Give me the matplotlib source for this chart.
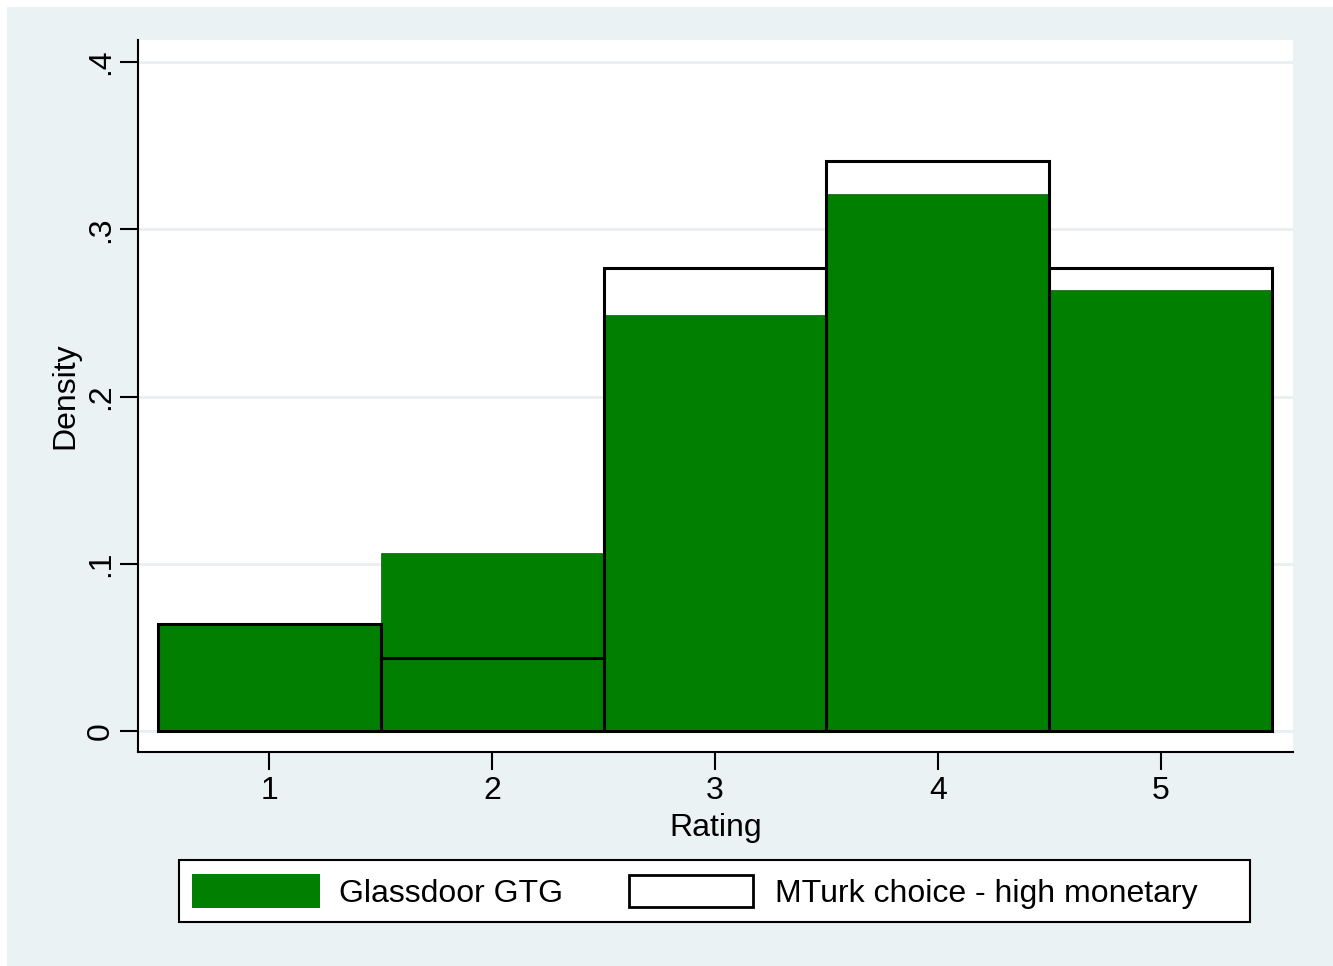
import numpy as np
import matplotlib.pyplot as plt
from matplotlib.patches import Rectangle

plt.rcParams['font.family'] = ['Liberation Sans', 'DejaVu Sans']

# Histogram densities
ratings = [1, 2, 3, 4, 5]
glassdoor = [0.064, 0.1065, 0.2487, 0.321, 0.2637]
mturk = [0.064, 0.0436, 0.2768, 0.3408, 0.2768]
ytick_vals = [0, 0.1, 0.2, 0.3, 0.4]
ytick_labels = ['0', '.1', '.2', '.3', '.4']

bg = '#eaf2f3'
green = '#007f00'

W, H = 1333, 966
fig = plt.figure(figsize=(W / 100, H / 100), dpi=100, facecolor='white')
# light outer region (white strip only at top/left)
fig.patches.append(Rectangle((7 / W, 0), 1, 1 - 7 / H, transform=fig.transFigure,
                             facecolor=bg, edgecolor='none', zorder=-5))

ax = fig.add_axes([138 / W, (H - 752) / H, (1293 - 138) / W, (752 - 40) / H])
ax.set_facecolor('white')

ax.bar(ratings, glassdoor, width=1.0, color=green, edgecolor='#1a6b1a',
       linewidth=0.6, zorder=2)
ax.bar(ratings, mturk, width=1.0, fill=False, edgecolor='black',
       linewidth=2.2, zorder=3)

ax.set_xlim(0.41, 5.594)
ax.set_ylim(-0.01256, 0.4132)

ax.set_yticks(ytick_vals)
ax.set_yticklabels(ytick_labels, rotation=90, va='center')
ax.set_xticks(ratings)
ax.yaxis.grid(True, color='#e8eff1', linewidth=2)
ax.set_axisbelow(True)

for s in ['top', 'right']:
    ax.spines[s].set_visible(False)
for s in ['left', 'bottom']:
    ax.spines[s].set_linewidth(1.5)
    ax.spines[s].set_color('black')

ax.tick_params(axis='both', length=13, width=1.5, labelsize=23, pad=4)
ax.tick_params(axis='y', pad=3)

ax.set_xlabel('Rating', fontsize=23, labelpad=5)
ax.set_ylabel('Density', fontsize=23, labelpad=4)

# legend box (Stata style, drawn in figure pixels)
def fx(x):
    return x / W

def fy(y):
    return 1 - y / H

fig.patches.append(Rectangle((fx(179), fy(922)), fx(1250 - 179), (922 - 860) / H,
                             transform=fig.transFigure, facecolor='white',
                             edgecolor='black', linewidth=1.5, zorder=1))
fig.patches.append(Rectangle((fx(192), fy(908)), fx(320 - 192), (908 - 874) / H,
                             transform=fig.transFigure, facecolor=green,
                             edgecolor='none', zorder=2))
fig.patches.append(Rectangle((fx(629), fy(907)), fx(753 - 629), (907 - 875) / H,
                             transform=fig.transFigure, facecolor='white',
                             edgecolor='black', linewidth=2, zorder=2))
fig.text(fx(339), fy(894), 'Glassdoor GTG', fontsize=23, va='center', ha='left')
fig.text(fx(775), fy(894), 'MTurk choice - high monetary', fontsize=23,
         va='center', ha='left')

fig.savefig('out.png', dpi=100, facecolor=fig.get_facecolor())
